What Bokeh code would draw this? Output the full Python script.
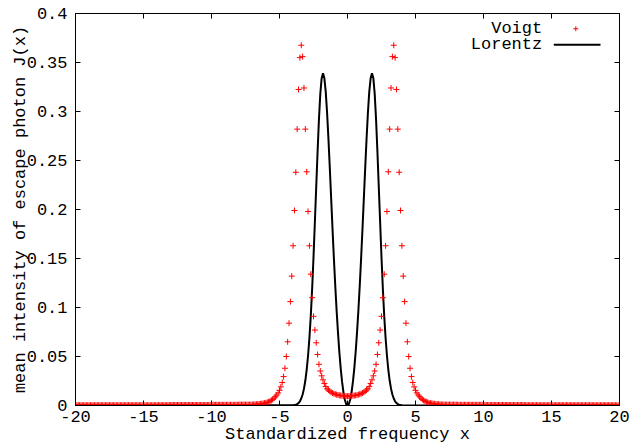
import math
from bokeh.plotting import figure
from bokeh.models import Range1d, LinearAxis, FixedTicker, Label, BoxAnnotation, ColumnDataSource
from bokeh.embed import file_html
from bokeh.resources import INLINE

# ---------------- data ----------------
x_ticks = [-20, -15, -10, -5, 0, 5, 10, 15, 20]
x_tick_labels = ["-20", "-15", "-10", "-5", "0", "5", "10", "15", "20"]
y_ticks = [0, 0.05, 0.1, 0.15, 0.2, 0.25, 0.3, 0.35, 0.4]
y_tick_labels = ["0", "0.05", "0.1", "0.15", "0.2", "0.25", "0.3", "0.35", "0.4"]

voigt_x = [
    -20.0, -19.9, -19.8, -19.7, -19.6, -19.5, -19.4, -19.3, -19.2, -19.1,
    -19.0, -18.9, -18.8, -18.7, -18.6, -18.5, -18.4, -18.3, -18.2, -18.1,
    -18.0, -17.9, -17.8, -17.7, -17.6, -17.5, -17.4, -17.3, -17.2, -17.1,
    -17.0, -16.9, -16.8, -16.7, -16.6, -16.5, -16.4, -16.3, -16.2, -16.1,
    -16.0, -15.9, -15.8, -15.7, -15.6, -15.5, -15.4, -15.3, -15.2, -15.1,
    -15.0, -14.9, -14.8, -14.7, -14.6, -14.5, -14.4, -14.3, -14.2, -14.1,
    -14.0, -13.9, -13.8, -13.7, -13.6, -13.5, -13.4, -13.3, -13.2, -13.1,
    -13.0, -12.9, -12.8, -12.7, -12.6, -12.5, -12.4, -12.3, -12.2, -12.1,
    -12.0, -11.9, -11.8, -11.7, -11.6, -11.5, -11.4, -11.3, -11.2, -11.1,
    -11.0, -10.9, -10.8, -10.7, -10.6, -10.5, -10.4, -10.3, -10.2, -10.1,
    -10.0, -9.9, -9.8, -9.7, -9.6, -9.5, -9.4, -9.3, -9.2, -9.1,
    -9.0, -8.9, -8.8, -8.7, -8.6, -8.5, -8.4, -8.3, -8.2, -8.1,
    -8.0, -7.9, -7.8, -7.7, -7.6, -7.5, -7.4, -7.3, -7.2, -7.1,
    -7.0, -6.9, -6.8, -6.7, -6.6, -6.5, -6.4, -6.3, -6.2, -6.1,
    -6.0, -5.9, -5.8, -5.7, -5.6, -5.5, -5.4, -5.3, -5.2, -5.1,
    -5.0, -4.9, -4.8, -4.7, -4.6, -4.5, -4.4, -4.3, -4.2, -4.1,
    -4.0, -3.9, -3.8, -3.7, -3.6, -3.5, -3.4, -3.3, -3.2, -3.1,
    -3.0, -2.9, -2.8, -2.7, -2.6, -2.5, -2.4, -2.3, -2.2, -2.1,
    -2.0, -1.9, -1.8, -1.7, -1.6, -1.5, -1.4, -1.3, -1.2, -1.1,
    -1.0, -0.9, -0.8, -0.7, -0.6, -0.5, -0.4, -0.3, -0.2, -0.1,
    0.0, 0.1, 0.2, 0.3, 0.4, 0.5, 0.6, 0.7, 0.8, 0.9,
    1.0, 1.1, 1.2, 1.3, 1.4, 1.5, 1.6, 1.7, 1.8, 1.9,
    2.0, 2.1, 2.2, 2.3, 2.4, 2.5, 2.6, 2.7, 2.8, 2.9,
    3.0, 3.1, 3.2, 3.3, 3.4, 3.5, 3.6, 3.7, 3.8, 3.9,
    4.0, 4.1, 4.2, 4.3, 4.4, 4.5, 4.6, 4.7, 4.8, 4.9,
    5.0, 5.1, 5.2, 5.3, 5.4, 5.5, 5.6, 5.7, 5.8, 5.9,
    6.0, 6.1, 6.2, 6.3, 6.4, 6.5, 6.6, 6.7, 6.8, 6.9,
    7.0, 7.1, 7.2, 7.3, 7.4, 7.5, 7.6, 7.7, 7.8, 7.9,
    8.0, 8.1, 8.2, 8.3, 8.4, 8.5, 8.6, 8.7, 8.8, 8.9,
    9.0, 9.1, 9.2, 9.3, 9.4, 9.5, 9.6, 9.7, 9.8, 9.9,
    10.0, 10.1, 10.2, 10.3, 10.4, 10.5, 10.6, 10.7, 10.8, 10.9,
    11.0, 11.1, 11.2, 11.3, 11.4, 11.5, 11.6, 11.7, 11.8, 11.9,
    12.0, 12.1, 12.2, 12.3, 12.4, 12.5, 12.6, 12.7, 12.8, 12.9,
    13.0, 13.1, 13.2, 13.3, 13.4, 13.5, 13.6, 13.7, 13.8, 13.9,
    14.0, 14.1, 14.2, 14.3, 14.4, 14.5, 14.6, 14.7, 14.8, 14.9,
    15.0, 15.1, 15.2, 15.3, 15.4, 15.5, 15.6, 15.7, 15.8, 15.9,
    16.0, 16.1, 16.2, 16.3, 16.4, 16.5, 16.6, 16.7, 16.8, 16.9,
    17.0, 17.1, 17.2, 17.3, 17.4, 17.5, 17.6, 17.7, 17.8, 17.9,
    18.0, 18.1, 18.2, 18.3, 18.4, 18.5, 18.6, 18.7, 18.8, 18.9,
    19.0, 19.1, 19.2, 19.3, 19.4, 19.5, 19.6, 19.7, 19.8, 19.9,
    20.0,
]

voigt_j = [
    0.0003, 0.0003, 0.0003, 0.0003, 0.0003, 0.0003, 0.0003, 0.0003, 0.0003, 0.0003,
    0.0003, 0.0003, 0.0003, 0.0003, 0.0003, 0.0003, 0.0003, 0.0003, 0.0003, 0.0003,
    0.0003, 0.0003, 0.0003, 0.0003, 0.0003, 0.0003, 0.0003, 0.0003, 0.0003, 0.0003,
    0.0003, 0.0003, 0.0003, 0.0003, 0.0003, 0.0003, 0.0003, 0.0003, 0.0003, 0.0003,
    0.0003, 0.0003, 0.0003, 0.0003, 0.0003, 0.0003, 0.0003, 0.0003, 0.0003, 0.0003,
    0.0003, 0.0003, 0.0003, 0.0003, 0.0003, 0.0003, 0.0003, 0.0003, 0.0003, 0.0003,
    0.0003, 0.0003, 0.0003, 0.0003, 0.0003, 0.0003, 0.0003, 0.0003, 0.0003, 0.0003,
    0.0005, 0.0005, 0.0005, 0.0005, 0.0005, 0.0005, 0.0005, 0.0005, 0.0005, 0.0005,
    0.0005, 0.0005, 0.0005, 0.0005, 0.0005, 0.0005, 0.0005, 0.0005, 0.0005, 0.0005,
    0.0005, 0.0005, 0.0005, 0.0005, 0.0005, 0.0005, 0.0005, 0.0005, 0.0005, 0.0005,
    0.0007, 0.0007, 0.0007, 0.0007, 0.0007, 0.0007, 0.0007, 0.0007, 0.0007, 0.0007,
    0.0007, 0.0007, 0.0007, 0.0007, 0.0007, 0.0007, 0.0007, 0.0007, 0.0007, 0.0007,
    0.0009, 0.0009, 0.0009, 0.0009, 0.0009, 0.0009, 0.0009, 0.0009, 0.0009, 0.0009,
    0.0010, 0.0011, 0.0012, 0.0013, 0.0014, 0.0015, 0.0017, 0.0019, 0.0021, 0.0024,
    0.0027, 0.0032, 0.0037, 0.0044, 0.0052, 0.0062, 0.0075, 0.0090, 0.0107, 0.0128,
    0.0155, 0.0190, 0.0235, 0.0295, 0.0380, 0.0500, 0.0650, 0.0840, 0.1060, 0.1320,
    0.1630, 0.1990, 0.2380, 0.2820, 0.3225, 0.3550, 0.3676, 0.3560, 0.3240, 0.2820,
    0.2385, 0.1980, 0.1630, 0.1340, 0.1100, 0.0910, 0.0770, 0.0640, 0.0520, 0.0420,
    0.0352, 0.0303, 0.0262, 0.0225, 0.0193, 0.0170, 0.0157, 0.0145, 0.0135, 0.0127,
    0.0120, 0.0115, 0.0111, 0.0107, 0.0104, 0.0102, 0.0100, 0.0098, 0.0097, 0.0096,
    0.0095, 0.0096, 0.0097, 0.0098, 0.0100, 0.0102, 0.0104, 0.0107, 0.0111, 0.0115,
    0.0120, 0.0127, 0.0135, 0.0145, 0.0157, 0.0170, 0.0193, 0.0225, 0.0262, 0.0303,
    0.0352, 0.0420, 0.0520, 0.0640, 0.0770, 0.0910, 0.1100, 0.1340, 0.1630, 0.1980,
    0.2385, 0.2820, 0.3240, 0.3560, 0.3676, 0.3550, 0.3225, 0.2820, 0.2380, 0.1990,
    0.1630, 0.1320, 0.1060, 0.0840, 0.0650, 0.0500, 0.0380, 0.0295, 0.0235, 0.0190,
    0.0155, 0.0128, 0.0107, 0.0090, 0.0075, 0.0062, 0.0052, 0.0044, 0.0037, 0.0032,
    0.0027, 0.0024, 0.0021, 0.0019, 0.0017, 0.0015, 0.0014, 0.0013, 0.0012, 0.0011,
    0.0010, 0.0009, 0.0009, 0.0009, 0.0009, 0.0009, 0.0009, 0.0009, 0.0009, 0.0009,
    0.0009, 0.0007, 0.0007, 0.0007, 0.0007, 0.0007, 0.0007, 0.0007, 0.0007, 0.0007,
    0.0007, 0.0007, 0.0007, 0.0007, 0.0007, 0.0007, 0.0007, 0.0007, 0.0007, 0.0007,
    0.0007, 0.0005, 0.0005, 0.0005, 0.0005, 0.0005, 0.0005, 0.0005, 0.0005, 0.0005,
    0.0005, 0.0005, 0.0005, 0.0005, 0.0005, 0.0005, 0.0005, 0.0005, 0.0005, 0.0005,
    0.0005, 0.0005, 0.0005, 0.0005, 0.0005, 0.0005, 0.0005, 0.0005, 0.0005, 0.0005,
    0.0005, 0.0003, 0.0003, 0.0003, 0.0003, 0.0003, 0.0003, 0.0003, 0.0003, 0.0003,
    0.0003, 0.0003, 0.0003, 0.0003, 0.0003, 0.0003, 0.0003, 0.0003, 0.0003, 0.0003,
    0.0003, 0.0003, 0.0003, 0.0003, 0.0003, 0.0003, 0.0003, 0.0003, 0.0003, 0.0003,
    0.0003, 0.0003, 0.0003, 0.0003, 0.0003, 0.0003, 0.0003, 0.0003, 0.0003, 0.0003,
    0.0003, 0.0003, 0.0003, 0.0003, 0.0003, 0.0003, 0.0003, 0.0003, 0.0003, 0.0003,
    0.0003, 0.0003, 0.0003, 0.0003, 0.0003, 0.0003, 0.0003, 0.0003, 0.0003, 0.0003,
    0.0003, 0.0003, 0.0003, 0.0003, 0.0003, 0.0003, 0.0003, 0.0003, 0.0003, 0.0003,
    0.0003,
]

lorentz_x = [
    -20.0,
    -4.0, -3.9, -3.8, -3.7, -3.6, -3.5, -3.4, -3.3, -3.2, -3.1,
    -3.0, -2.9, -2.8, -2.7, -2.6, -2.5, -2.4, -2.3, -2.2, -2.1,
    -2.0, -1.9, -1.8, -1.7, -1.6, -1.5, -1.4, -1.3, -1.2, -1.1,
    -1.0, -0.9, -0.8, -0.7, -0.6, -0.5, -0.4, -0.3, -0.2, -0.1,
    0.0, 0.1, 0.2, 0.3, 0.4, 0.5, 0.6, 0.7, 0.8, 0.9,
    1.0, 1.1, 1.2, 1.3, 1.4, 1.5, 1.6, 1.7, 1.8, 1.9,
    2.0, 2.1, 2.2, 2.3, 2.4, 2.5, 2.6, 2.7, 2.8, 2.9,
    3.0, 3.1, 3.2, 3.3, 3.4, 3.5, 3.6, 3.7, 3.8, 3.9,
    4.0,
    20.0,
]
lorentz_j = [
    0.0,
    0.0002, 0.0004, 0.0008, 0.0014, 0.0025, 0.0043, 0.0071, 0.0112, 0.0172, 0.0255,
    0.0365, 0.0510, 0.0690, 0.0915, 0.1190, 0.1510, 0.1870, 0.2230, 0.2590, 0.2920,
    0.3180, 0.3340, 0.3390, 0.3339, 0.3200, 0.2985, 0.2718, 0.2420, 0.2108, 0.1797,
    0.1499, 0.1222, 0.0968, 0.0743, 0.0546, 0.0379, 0.0243, 0.0137, 0.0061, 0.0015,
    0.0, 0.0015, 0.0061, 0.0137, 0.0243, 0.0379, 0.0546, 0.0743, 0.0968, 0.1222,
    0.1499, 0.1797, 0.2108, 0.2420, 0.2718, 0.2985, 0.3200, 0.3339, 0.3390, 0.3340,
    0.3180, 0.2920, 0.2590, 0.2230, 0.1870, 0.1510, 0.1190, 0.0915, 0.0690, 0.0510,
    0.0365, 0.0255, 0.0172, 0.0112, 0.0071, 0.0043, 0.0025, 0.0014, 0.0008, 0.0004,
    0.0002,
    0.0,
]

series_names = ["Voigt", "Lorentz"]
x_title = "Standardized frequency x"
y_title = "mean intensity of escape photon J(x)"

# ---------------- styling ----------------
FONT = "Liberation Mono"
FS = "17px"
RED = "#ff0000"

p = figure(width=632, height=447, output_backend="svg", toolbar_location=None,
           x_range=Range1d(-20, 20), y_range=Range1d(0, 0.4),
           min_border_left=75, min_border_right=13, min_border_top=13, min_border_bottom=42)
p.xgrid.visible = False
p.ygrid.visible = False
p.background_fill_color = "white"
p.border_fill_color = "white"
p.outline_line_color = "black"
p.outline_line_width = 1
p.outline_line_alpha = 1.0

x_over = {t: s for t, s in zip(x_ticks, x_tick_labels)}
y_over = {t: s for t, s in zip(y_ticks, y_tick_labels)}


def style_axis(ax, ticks, overrides, show_labels, standoff):
    ax.ticker = FixedTicker(ticks=ticks)
    ax.major_tick_in = 5
    ax.major_tick_out = 0
    ax.minor_tick_in = 0
    ax.minor_tick_out = 0
    ax.axis_line_color = "black"
    ax.major_tick_line_color = "black"
    ax.major_label_text_font = FONT
    ax.major_label_text_color = "black"
    ax.axis_label_text_font = FONT
    ax.axis_label_text_font_size = FS
    ax.axis_label_text_font_style = "normal"
    ax.axis_label_text_color = "black"
    if show_labels:
        ax.major_label_overrides = overrides
        ax.major_label_text_font_size = FS
        ax.major_label_standoff = standoff
    else:
        ax.major_label_overrides = {t: "" for t in ticks}
        ax.major_label_text_font_size = "0px"
        ax.major_label_standoff = 0


style_axis(p.xaxis[0], x_ticks, x_over, True, 5)
style_axis(p.yaxis[0], y_ticks, y_over, True, 8)
p.xaxis[0].axis_label = x_title
p.xaxis[0].axis_label_standoff = 0
p.yaxis[0].axis_label = y_title
p.yaxis[0].axis_label_standoff = -6

top_axis = LinearAxis()
style_axis(top_axis, x_ticks, x_over, False, 0)
p.add_layout(top_axis, "above")
right_axis = LinearAxis()
style_axis(right_axis, y_ticks, y_over, False, 0)
p.add_layout(right_axis, "right")

# ---------------- series ----------------
src_v = ColumnDataSource(dict(x=voigt_x, y=voigt_j))
src_l = ColumnDataSource(dict(x=lorentz_x, y=lorentz_j))

p.line("x", "y", source=src_l, line_color="black", line_width=2)
p.scatter("x", "y", source=src_v, marker="cross", size=6, line_color=RED, line_width=1)

# ---------------- legend (label, then sample, as in the original) ----------------
p.add_layout(Label(x=466.7, y=376.7, x_units="screen", y_units="screen", text=series_names[0],
                   text_font=FONT, text_font_size=FS, text_align="right",
                   text_baseline="middle", text_color="black"))
p.add_layout(Label(x=466.7, y=360.7, x_units="screen", y_units="screen", text=series_names[1],
                   text_font=FONT, text_font_size=FS, text_align="right",
                   text_baseline="middle", text_color="black"))
# red cross sample
p.add_layout(BoxAnnotation(left=497.8, right=502.8, bottom=376.2, top=377.2,
                           left_units="screen", right_units="screen",
                           bottom_units="screen", top_units="screen",
                           fill_color=RED, fill_alpha=1, line_color=None))
p.add_layout(BoxAnnotation(left=499.8, right=500.8, bottom=374.2, top=379.2,
                           left_units="screen", right_units="screen",
                           bottom_units="screen", top_units="screen",
                           fill_color=RED, fill_alpha=1, line_color=None))
# black line sample
p.add_layout(BoxAnnotation(left=478.3, right=525, bottom=359.7, top=361.7,
                           left_units="screen", right_units="screen",
                           bottom_units="screen", top_units="screen",
                           fill_color="black", fill_alpha=1, line_color=None))

open("out.html", "w").write(file_html(p, INLINE))
